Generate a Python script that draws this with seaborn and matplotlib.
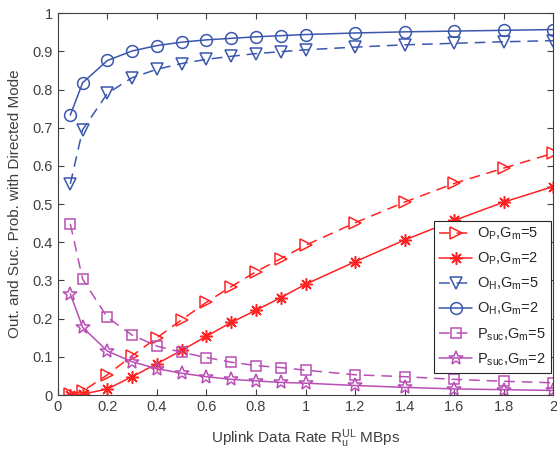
import matplotlib
matplotlib.use("Agg")
import matplotlib.pyplot as plt
import seaborn as sns
import pandas as pd

# taxa de uplink (MBps)
rates = [0.05, 0.1, 0.2, 0.3, 0.4, 0.5, 0.6, 0.7, 0.8, 0.9, 1.0, 1.2, 1.4, 1.6, 1.8, 2.0]

op_gm5 = [0.002, 0.010, 0.053, 0.103, 0.150, 0.197, 0.243, 0.284, 0.323, 0.357, 0.392, 0.451, 0.505, 0.554, 0.594, 0.633]
op_gm2 = [0.000, 0.002, 0.016, 0.048, 0.082, 0.117, 0.154, 0.190, 0.222, 0.255, 0.290, 0.349, 0.406, 0.457, 0.505, 0.546]
oh_gm5 = [0.553, 0.695, 0.790, 0.831, 0.853, 0.868, 0.879, 0.887, 0.894, 0.899, 0.904, 0.911, 0.917, 0.921, 0.925, 0.928]
oh_gm2 = [0.733, 0.818, 0.876, 0.901, 0.915, 0.924, 0.930, 0.934, 0.938, 0.941, 0.944, 0.948, 0.951, 0.953, 0.955, 0.957]
psuc_gm5 = [0.448, 0.303, 0.203, 0.157, 0.128, 0.112, 0.098, 0.086, 0.077, 0.072, 0.065, 0.053, 0.048, 0.041, 0.036, 0.032]
psuc_gm2 = [0.265, 0.177, 0.115, 0.087, 0.069, 0.057, 0.048, 0.041, 0.037, 0.033, 0.031, 0.025, 0.020, 0.016, 0.014, 0.012]

labels = [r"O$_\mathregular{P}$,G$_\mathregular{m}$=5", r"O$_\mathregular{P}$,G$_\mathregular{m}$=2",
          r"O$_\mathregular{H}$,G$_\mathregular{m}$=5", r"O$_\mathregular{H}$,G$_\mathregular{m}$=2",
          r"P$_\mathregular{suc}$,G$_\mathregular{m}$=5", r"P$_\mathregular{suc}$,G$_\mathregular{m}$=2"]

sns.set_style("ticks")
plt.rcParams['font.family'] = ['Liberation Sans', 'DejaVu Sans']
plt.rcParams['mathtext.fontset'] = 'custom'
plt.rcParams['mathtext.rm'] = 'Liberation Sans'
plt.rcParams['mathtext.it'] = 'Liberation Sans'

red = "#ff2222"
blue = "#3a57ae"
purple = "#b94fb5"

tracejado = (0, (7, 4.5))
series = [
    (op_gm5, red, ">", tracejado, 9),
    (op_gm2, red, (8, 2, 0), "-", 9),
    (oh_gm5, blue, "v", tracejado, 9),
    (oh_gm2, blue, "o", "-", 8.5),
    (psuc_gm5, purple, "s", tracejado, 6.5),
    (psuc_gm2, purple, "*", "-", 10),
]

fig = plt.figure(figsize=(5.57, 4.53), dpi=100)
ax = fig.add_axes([0.104, 0.128, 0.889, 0.843])

for (vals, cor, mk, ls, ms), lab in zip(series, labels):
    df = pd.DataFrame({"rate": rates, "prob": vals})
    sns.lineplot(data=df, x="rate", y="prob", ax=ax, color=cor, marker=mk,
                 markersize=ms, markerfacecolor="none", markeredgecolor=cor,
                 markeredgewidth=1.1, linewidth=1.1, linestyle=ls, label=lab)

ax.set_xlim(0, 2)
ax.set_ylim(0, 1)
ax.set_xticks([0, 0.2, 0.4, 0.6, 0.8, 1, 1.2, 1.4, 1.6, 1.8, 2])
ax.set_xticklabels(["0", "0.2", "0.4", "0.6", "0.8", "1", "1.2", "1.4", "1.6", "1.8", "2"])
ax.set_yticks([i / 10 for i in range(11)])
ax.set_yticklabels(["0"] + [f"0.{i}" for i in range(1, 10)] + ["1"])
ax.tick_params(direction="in", top=True, right=True, length=4, width=0.8,
               colors="#404040", labelsize=10.5, labelcolor="#404040")
for s in ax.spines.values():
    s.set_color("#404040")
    s.set_linewidth(0.8)

ax.set_xlabel(r"Uplink Data Rate R$_\mathregular{u}^\mathregular{UL}$ MBps", fontsize=11,
              color="#404040", labelpad=10)
ax.set_ylabel("Out. and Suc. Prob. with Directed Mode", fontsize=11, color="#404040",
              labelpad=8)

leg = ax.legend(loc="lower right", bbox_to_anchor=(0.995, 0.058), fontsize=10.5,
                frameon=True, fancybox=False, edgecolor="#262626", framealpha=1,
                borderpad=0.35, labelspacing=0.6, handlelength=2.3, handletextpad=0.3,
                borderaxespad=0.0)
leg.get_frame().set_linewidth(0.8)

fig.savefig("out.png", dpi=100)
